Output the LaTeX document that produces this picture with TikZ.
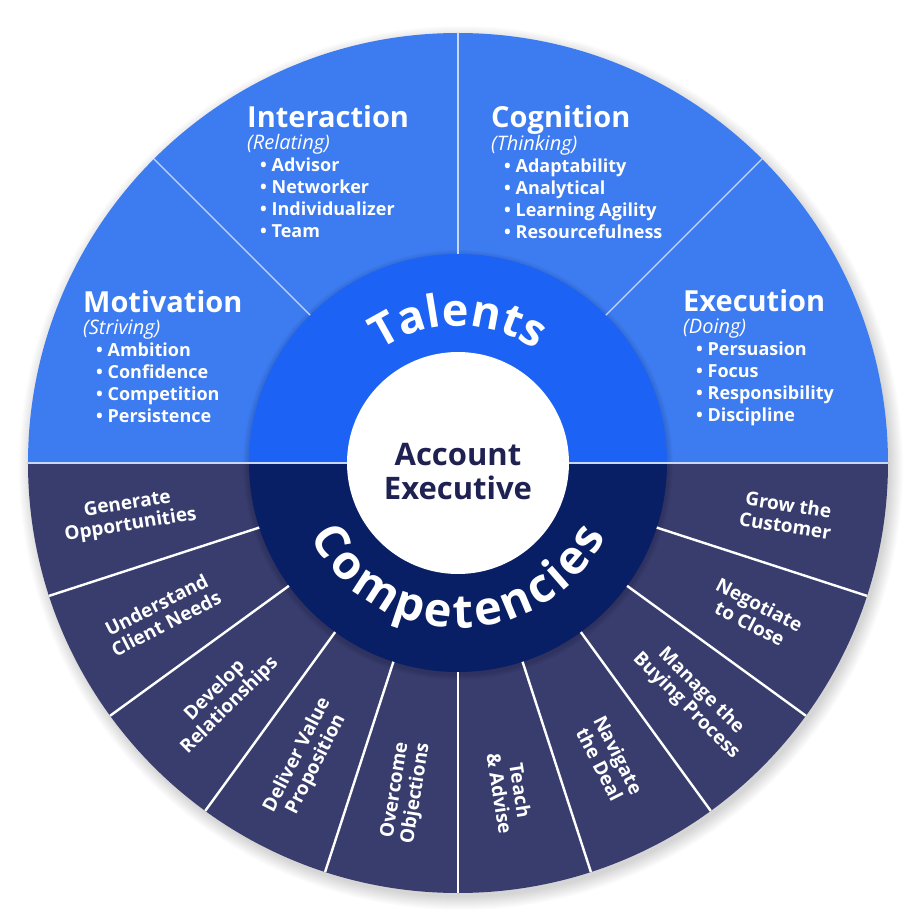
\documentclass[tikz,border=0pt]{standalone}
\usepackage{fontspec}
\setmainfont{Open Sans}
\usetikzlibrary{decorations.text}

\definecolor{talentblue}{RGB}{61,123,240}
\definecolor{talentring}{RGB}{28,98,245}
\definecolor{compslate}{RGB}{56,61,110}
\definecolor{compring}{RGB}{9,31,101}
\definecolor{centertext}{RGB}{31,33,82}
\definecolor{topline}{RGB}{200,216,248}

\begin{document}
\begin{tikzpicture}[
                x=1pt, y=1pt,
                talent/.style={anchor=base west, inner sep=0pt, text=white, font=\fontsize{18}{22}\selectfont\bfseries},
                segment/.style={inner sep=0pt, text=white, align=center, font=\fontsize{19}{21}\selectfont\bfseries},
                topdiv/.style={draw=topline, line width=1.4pt},
                botdiv/.style={draw=white, line width=2.4pt}
            ]

                \useasboundingbox (-458,-461) rectangle (464,463);

                % Soft shadow under the wheel
                \foreach \i in {1,...,14}
                    \fill[black, opacity=0.012] (3,-5) circle (428+\i);

                % Outer ring: talents on top, competencies below
                \fill[talentblue] (0,0) -- (0:430) arc (0:180:430) -- cycle;
                \fill[compslate] (0,0) -- (180:430) arc (180:360:430) -- cycle;

                % Slight shade round the middle ring
                \foreach \i in {1,...,6}
                    \fill[black, opacity=0.02] (0,-2) circle (209+\i);

                % Middle ring
                \fill[talentring] (0:209) arc (0:180:209) -- cycle;
                \fill[compring] (180:209) arc (180:360:209) -- cycle;

                % Dividers between the sectors
                \foreach \ang in {45,90,135}
                    \draw[topdiv] (\ang:209) -- (\ang:430);
                \foreach \ang in {198,216,...,342}
                    \draw[botdiv] (\ang:209) -- (\ang:430);
                \draw[topline, line width=1.2pt] (180:430) -- (180:111);
                \draw[topline, line width=1.2pt] (0:111) -- (0:430);

                % Centre disc
                \fill[white] (0,0) circle (111);
                \node[font=\fontsize{31}{34}\selectfont\bfseries, text=centertext, align=center, inner sep=0pt] (account) at (0,-9) {Account\\Executive};

                % Curved ring titles
                \path[decorate, decoration={text along path, text align=center,
                    text={|\fontsize{45}{45}\selectfont\bfseries\color{white}|Talents}}]
                    (180:137) arc (180:0:137);
                \path[decorate, decoration={text along path, text align={fit to path},
                    text={|\fontsize{47}{47}\selectfont\bfseries\color{white}|Competencies}}]
                    (206.5:165) arc (206.5:333.5:165);

                % Talent groups
                \node[talent] (interaction) at (-211,335) {\begin{tabular}[t]{@{}l@{}}
                    {\fontsize{29}{22}\selectfont Interaction}\\
                    {\fontsize{20}{22}\selectfont\mdseries\itshape (Relating)}\\
                    \hspace*{13pt}\textbullet~Advisor\\
                    \hspace*{13pt}\textbullet~Networker\\
                    \hspace*{13pt}\textbullet~Individualizer\\
                    \hspace*{13pt}\textbullet~Team
                \end{tabular}};
                \node[talent] (cognition) at (33,335) {\begin{tabular}[t]{@{}l@{}}
                    {\fontsize{29}{22}\selectfont Cognition}\\
                    {\fontsize{20}{22}\selectfont\mdseries\itshape (Thinking)}\\
                    \hspace*{13pt}\textbullet~Adaptability\\
                    \hspace*{13pt}\textbullet~Analytical\\
                    \hspace*{13pt}\textbullet~Learning Agility\\
                    \hspace*{13pt}\textbullet~Resourcefulness
                \end{tabular}};
                \node[talent] (motivation) at (-375,150) {\begin{tabular}[t]{@{}l@{}}
                    {\fontsize{29}{22}\selectfont Motivation}\\
                    {\fontsize{20}{22}\selectfont\mdseries\itshape (Striving)}\\
                    \hspace*{13pt}\textbullet~Ambition\\
                    \hspace*{13pt}\textbullet~Confidence\\
                    \hspace*{13pt}\textbullet~Competition\\
                    \hspace*{13pt}\textbullet~Persistence
                \end{tabular}};
                \node[talent] (execution) at (225,151) {\begin{tabular}[t]{@{}l@{}}
                    {\fontsize{29}{22}\selectfont Execution}\\
                    {\fontsize{20}{22}\selectfont\mdseries\itshape (Doing)}\\
                    \hspace*{13pt}\textbullet~Persuasion\\
                    \hspace*{13pt}\textbullet~Focus\\
                    \hspace*{13pt}\textbullet~Responsibility\\
                    \hspace*{13pt}\textbullet~Discipline
                \end{tabular}};

                % Competency sectors, text along the radius
                \foreach \ang/\rot/\txt [count=\i] in {
                    189/9/{Generate\\Opportunities},
                    207/27/{Understand\\Client Needs},
                    225/45/{Develop\\Relationships},
                    243/63/{Deliver Value\\Proposition},
                    261/81/{Overcome\\Objections},
                    279/-81/{Teach\\\& Advise},
                    297/-63/{Navigate\\the Deal},
                    315/-45/{Manage the\\Buying Process},
                    333/-27/{Negotiate\\to Close},
                    351/-9/{Grow the\\Customer}}
                    \node[segment, rotate=\rot] (comp\i) at (\ang:333) {\txt};

            \end{tikzpicture}
\end{document}
